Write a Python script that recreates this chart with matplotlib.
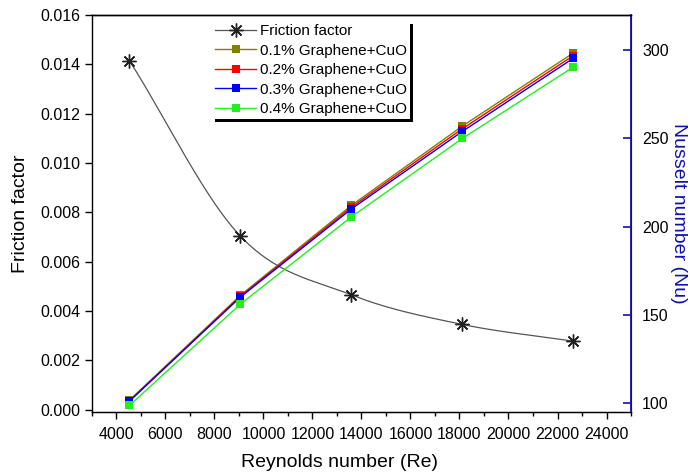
import numpy as np
import matplotlib
matplotlib.use("Agg")
import matplotlib.pyplot as plt
from matplotlib.lines import Line2D
from matplotlib.ticker import MultipleLocator

plt.rcParams["font.family"] = ["Liberation Sans", "DejaVu Sans"]

# data
reynolds = [4530, 9060, 13590, 18120, 22650]
friction = [0.01415, 0.00703, 0.00465, 0.00345, 0.00277]
nu_01 = [101.5, 161.0, 212.0, 257.0, 298.5]
nu_02 = [101.0, 160.5, 211.0, 255.5, 297.0]
nu_03 = [101.0, 160.0, 210.0, 254.0, 295.5]
nu_04 = [98.5, 156.0, 205.5, 250.0, 290.5]
nu_labels = ["0.1% Graphene+CuO", "0.2% Graphene+CuO", "0.3% Graphene+CuO", "0.4% Graphene+CuO"]
nu_colors = ["#808000", "#ff0000", "#0000ff", "#22ee22"]


def catmull_rom(x, y, n=40):
    # smooth connecting curve through the points (display only)
    p = np.column_stack([x, y]).astype(float)
    p = np.vstack([2 * p[0] - p[1], p, 2 * p[-1] - p[-2]])
    t = np.linspace(0, 1, n)[:, None]
    out = []
    for i in range(1, len(p) - 2):
        p0, p1, p2, p3 = p[i - 1], p[i], p[i + 1], p[i + 2]
        seg = 0.5 * ((2 * p1) + (-p0 + p2) * t + (2 * p0 - 5 * p1 + 4 * p2 - p3) * t ** 2
                     + (-p0 + 3 * p1 - 3 * p2 + p3) * t ** 3)
        out.append(seg)
    out = np.vstack(out)
    return out[:, 0], out[:, 1]


fig = plt.figure(figsize=(6.9, 4.74), dpi=100)
ax = fig.add_axes([0.1333, 0.1308, 0.7812, 0.8376])
ax2 = ax.twinx()

# friction factor (left axis)
sx, sy = catmull_rom(reynolds, friction)
ax.plot(sx, sy, color="#555555", lw=0.9)
ax.plot(reynolds, friction, ls="none", marker=(8, 2, 0), ms=10, mew=1.0, color="#222222")

# Nusselt number (right axis)
for vals, col in zip([nu_01, nu_02, nu_03, nu_04], nu_colors):
    ax2.plot(reynolds, vals, color=col, lw=1.0, marker="s", ms=5.5, mew=0)

ax.set_xlim(3000, 25000)
ax.set_ylim(-0.0001, 0.016)
ax2.set_ylim(94.8, 320)

ax.xaxis.set_major_locator(MultipleLocator(2000))
ax.xaxis.set_minor_locator(MultipleLocator(1000))
ax.yaxis.set_major_locator(MultipleLocator(0.002))
ax.yaxis.set_major_formatter(matplotlib.ticker.FormatStrFormatter("%.3f"))
ax2.yaxis.set_major_locator(MultipleLocator(50))

ax.tick_params(axis="both", which="major", direction="out", length=5, labelsize=11.5, width=1)
ax.tick_params(axis="x", which="major", pad=6)
ax.tick_params(axis="x", which="minor", direction="out", length=3, width=1)
ax2.tick_params(axis="y", which="major", direction="in", length=6, width=1.2,
                colors="#1010b0", labelcolor="black", labelsize=11.5, pad=8)

for s in ["left", "bottom", "top"]:
    ax.spines[s].set_linewidth(1.0)
ax2.spines["right"].set_color("#1010b0")
ax2.spines["right"].set_linewidth(1.3)
ax2.spines["left"].set_visible(False)
ax2.spines["top"].set_linewidth(1.0)

ax.set_xlabel("Reynolds number (Re)", fontsize=14, labelpad=10)
ax.xaxis.set_label_coords(0.46, -0.105)
ax.set_ylabel("Friction factor", fontsize=14, labelpad=8)
ax2.set_ylabel("Nusselt number (Nu)", fontsize=14, color="#1010b0", rotation=270, labelpad=13)

handles = [Line2D([], [], color="#555555", lw=0.9, marker=(8, 2, 0), ms=10, mec="#222222")]
for col in nu_colors:
    handles.append(Line2D([], [], color=col, lw=1.0, marker="s", ms=5.5, mew=0))
leg = ax2.legend(handles, ["Friction factor"] + nu_labels, loc="upper left",
                 bbox_to_anchor=(212 / 690, 1 - 21 / 474), bbox_transform=fig.transFigure,
                 fontsize=11, handlelength=2.7, handletextpad=0.25, labelspacing=0.36,
                 borderpad=0.2, borderaxespad=0, fancybox=False,
                 shadow={"color": "black", "alpha": 1.0})
leg.get_frame().set_edgecolor("white")
leg.get_frame().set_linewidth(0)

fig.savefig("out.png", dpi=100)
